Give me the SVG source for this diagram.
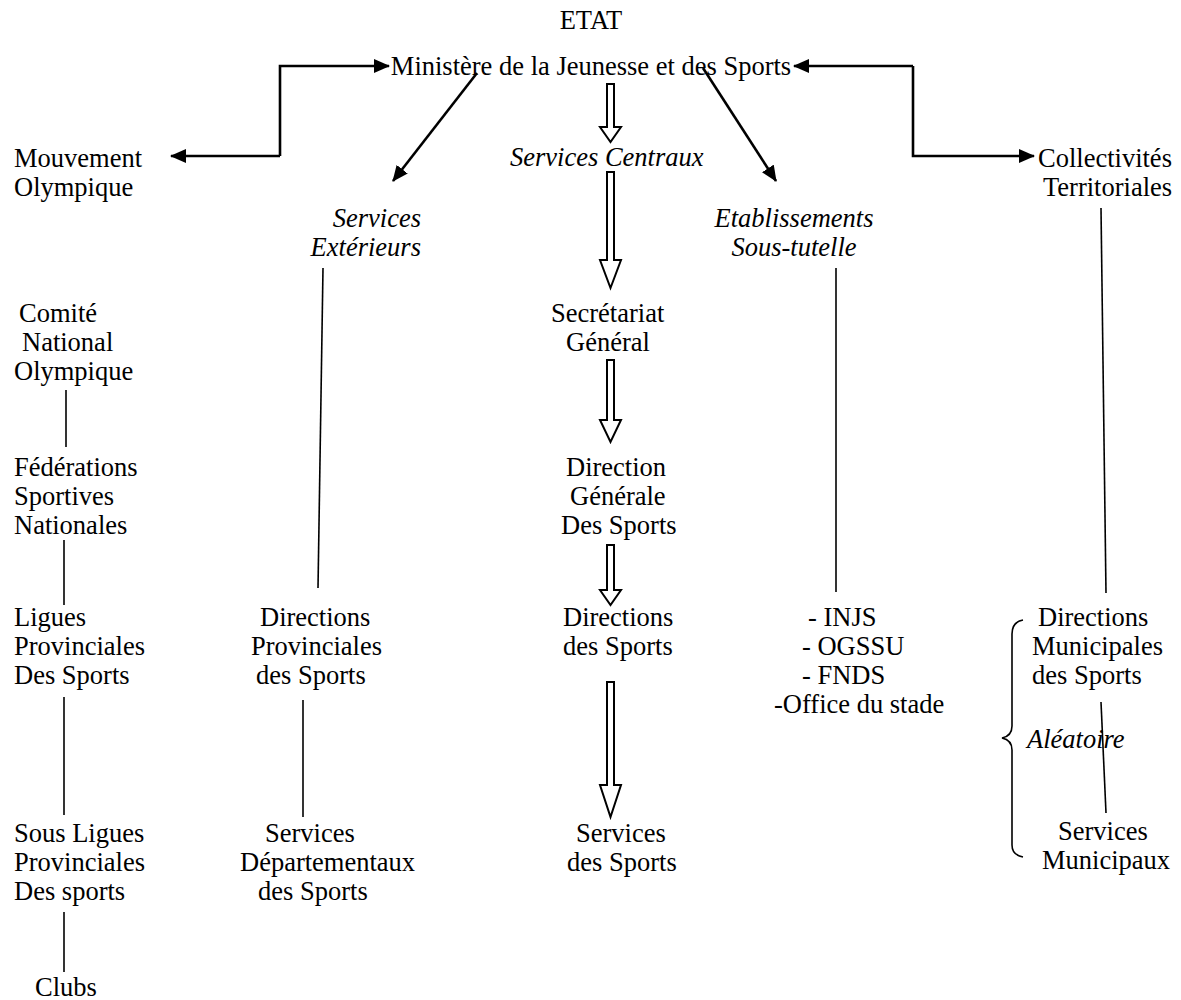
<svg xmlns="http://www.w3.org/2000/svg" width="1181" height="1000" viewBox="0 0 1181 1000">
<style>
text{font-family:"Liberation Serif","Times New Roman",serif;font-size:26.5px;fill:#000}
.i{font-style:italic}
.ln{stroke:#000;stroke-width:1.6;fill:none}
.ar{stroke:#000;stroke-width:2.6;fill:none}
.ho{stroke:#000;stroke-width:2;fill:#fff;stroke-linejoin:miter}
</style>
<defs>
<marker id="ahb" markerWidth="16" markerHeight="14" refX="15" refY="7" orient="auto" markerUnits="userSpaceOnUse" viewBox="0 0 16 14">
<path d="M0,0 L16,7 L0,14 Z" fill="#000"/>
</marker>
</defs>
<rect width="1181" height="1000" fill="#fff"/>
<g id="connectors">
<path class="ar" d="M280,156 L280,66 L389,66" marker-end="url(#ahb)"/>
<path class="ar" d="M280,156 L171,156" marker-end="url(#ahb)"/>
<path class="ar" d="M913,66 L794,66" marker-end="url(#ahb)"/>
<path class="ar" d="M913,66 L913,156 L1034,156" marker-end="url(#ahb)"/>
<path class="ar" d="M477,73 L393,181" marker-end="url(#ahb)"/>
<path class="ar" d="M703,68 L776,181" marker-end="url(#ahb)"/>
<path class="ho" d="M607,84 H614 V127 H621 L610.5,142 L600,127 H607 Z"/>
<path class="ho" d="M607,172 H614 V260 H621 L610.5,288 L600,260 H607 Z"/>
<path class="ho" d="M607,360 H614 V420 H621 L610.5,442 L600,420 H607 Z"/>
<path class="ho" d="M607,545 H614 V590 H621 L610.5,605 L600,590 H607 Z"/>
<path class="ho" d="M607,682 H614 V785 H621 L610.5,817 L600,785 H607 Z"/>
<line class="ln" x1="66" y1="390" x2="66" y2="447"/>
<line class="ln" x1="64" y1="540" x2="64" y2="605"/>
<line class="ln" x1="64" y1="697" x2="64" y2="815"/>
<line class="ln" x1="64" y1="912" x2="64" y2="972"/>
<line class="ln" x1="323" y1="268" x2="318" y2="588"/>
<line class="ln" x1="303" y1="700" x2="303" y2="817"/>
<line class="ln" x1="836" y1="268" x2="836" y2="592"/>
<line class="ln" x1="1101" y1="208" x2="1106" y2="593"/>
<line class="ln" x1="1101" y1="702" x2="1106" y2="813"/>
<path class="ln" d="M1023,620 Q1012,622 1012,634 L1012,726 Q1012,736 1002,738 Q1012,740 1012,750 L1012,845 Q1012,855 1023,857"/>
</g>
<g id="etat"><text x="591" y="29" text-anchor="middle">ETAT</text></g>
<g id="ministere"><text x="591" y="75" text-anchor="middle">Ministère de la Jeunesse et des Sports</text></g>
<g id="mouvement"><text x="14" y="167">Mouvement</text><text x="14" y="196">Olympique</text></g>
<g id="services-centraux"><text class="i" x="510" y="166">Services Centraux</text></g>
<g id="collectivites"><text x="1038" y="167">Collectivités</text><text x="1043" y="196">Territoriales</text></g>
<g id="services-exterieurs"><text class="i" x="421" y="227" text-anchor="end">Services</text><text class="i" x="421" y="256" text-anchor="end">Extérieurs</text></g>
<g id="etablissements"><text class="i" x="794" y="227" text-anchor="middle">Etablissements</text><text class="i" x="794" y="256" text-anchor="middle">Sous-tutelle</text></g>
<g id="cno"><text x="19" y="322">Comité</text><text x="22" y="351">National</text><text x="14" y="380">Olympique</text></g>
<g id="secretariat"><text x="551" y="322">Secrétariat</text><text x="566" y="351">Général</text></g>
<g id="federations"><text x="14" y="476">Fédérations</text><text x="14" y="505">Sportives</text><text x="14" y="534">Nationales</text></g>
<g id="dgs"><text x="566" y="476">Direction</text><text x="570" y="505">Générale</text><text x="561" y="534">Des Sports</text></g>
<g id="ligues"><text x="14" y="626">Ligues</text><text x="14" y="655">Provinciales</text><text x="14" y="684">Des Sports</text></g>
<g id="dir-prov"><text x="260" y="626">Directions</text><text x="251" y="655">Provinciales</text><text x="256" y="684">des Sports</text></g>
<g id="dir-sports"><text x="563" y="626">Directions</text><text x="563" y="655">des Sports</text></g>
<g id="etab-list"><text x="808" y="626">- INJS</text><text x="802" y="655">- OGSSU</text><text x="802" y="684">- FNDS</text><text x="774" y="713">-Office du stade</text></g>
<g id="dir-mun"><text x="1038" y="626">Directions</text><text x="1032" y="655">Municipales</text><text x="1032" y="684">des Sports</text></g>
<g id="aleatoire"><text class="i" x="1027" y="748">Aléatoire</text></g>
<g id="sous-ligues"><text x="14" y="842">Sous Ligues</text><text x="14" y="871">Provinciales</text><text x="14" y="900">Des sports</text></g>
<g id="serv-dep"><text x="265" y="842">Services</text><text x="240" y="871">Départementaux</text><text x="258" y="900">des Sports</text></g>
<g id="serv-sports"><text x="576" y="842">Services</text><text x="567" y="871">des Sports</text></g>
<g id="serv-mun"><text x="1058" y="840">Services</text><text x="1042" y="869">Municipaux</text></g>
<g id="clubs"><text x="35" y="996">Clubs</text></g>
</svg>
